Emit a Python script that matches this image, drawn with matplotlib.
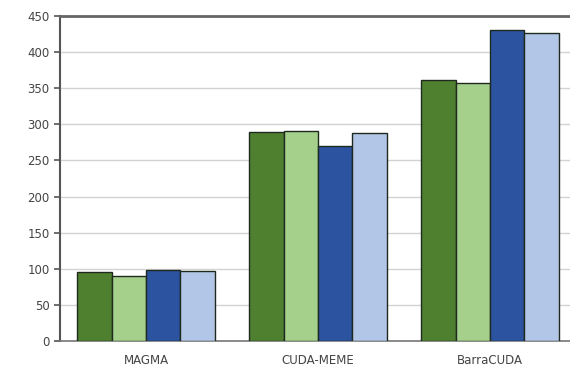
import matplotlib
matplotlib.use("Agg")
import matplotlib.pyplot as plt
import numpy as np

categories = ["MAGMA", "CUDA-MEME", "BarraCUDA"]
series_1 = [95, 289, 361]
series_2 = [90, 291, 357]
series_3 = [99, 270, 430]
series_4 = [97, 288, 426]
colors = ["#4f8030", "#a5d08c", "#2c53a0", "#b2c6e8"]

fig = plt.figure(figsize=(5.70, 3.77), dpi=100)
ax = fig.add_axes([60 / 570, 36 / 377, 510 / 570, 325 / 377])

x = np.arange(len(categories))
width = 0.2
for i, vals in enumerate([series_1, series_2, series_3, series_4]):
    ax.bar(x + (i - 1.5) * width, vals, width, color=colors[i],
           edgecolor="#1e2a1e", linewidth=1.0, zorder=3)

ax.set_xlim(-0.5, 2.465)
ax.set_ylim(0, 450)
ax.set_yticks(range(0, 451, 50))
ax.set_xticks(x)
ax.set_xticklabels(categories)
ax.grid(axis="y", color="#d2d2d2", linewidth=1.0, zorder=0)
ax.tick_params(axis="y", length=4, color="#555555", labelsize=8.5, labelcolor="#444444", width=1.2)
ax.tick_params(axis="x", length=0, labelsize=8.5, labelcolor="#444444", pad=9)
ax.spines["right"].set_visible(False)
ax.spines["left"].set_color("#555555")
ax.spines["left"].set_linewidth(1.5)
ax.spines["bottom"].set_color("#777777")
ax.spines["bottom"].set_linewidth(1.2)
ax.spines["top"].set_color("#666666")
ax.spines["top"].set_linewidth(2)

fig.savefig("out.png", dpi=100)
